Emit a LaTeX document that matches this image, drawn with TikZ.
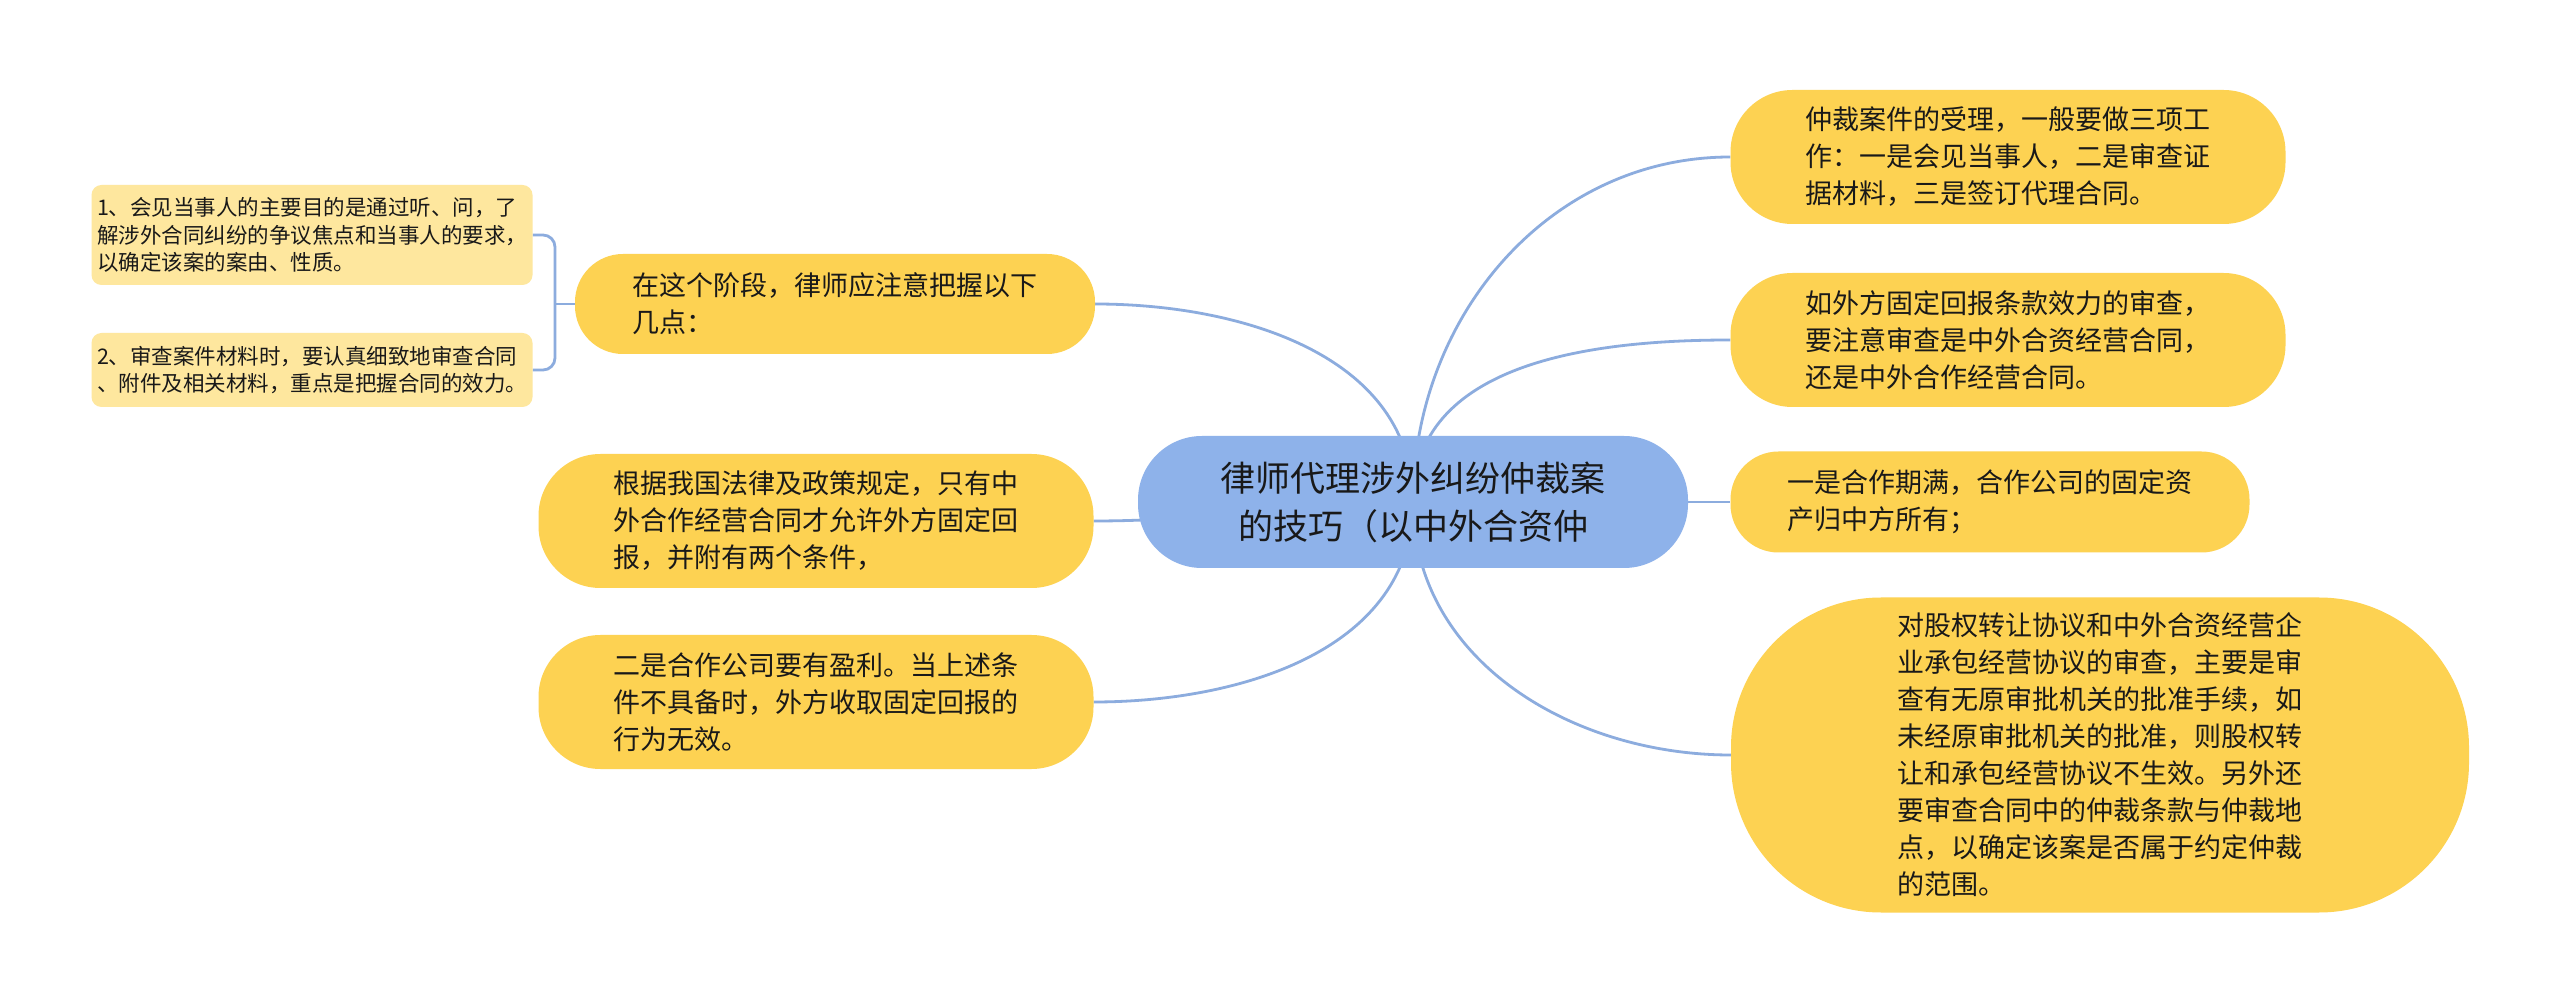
\documentclass[tikz,border=0pt]{standalone}
\usepackage{fontspec}
\setmainfont{Noto Sans CJK SC}
\usetikzlibrary{backgrounds}
\definecolor{topicyellow}{RGB}{253,210,82}
\definecolor{subyellow}{RGB}{254,231,158}
\definecolor{rootblue}{RGB}{142,178,234}
\definecolor{linkblue}{RGB}{140,172,222}
\definecolor{inktext}{RGB}{25,25,25}

\begin{document}
\begin{tikzpicture}[x=1pt,y=1pt,
  topic/.style={fill=topicyellow, text=inktext, align=left, inner sep=0pt,
    font=\fontsize{27}{37}\selectfont, rounded corners=#1},
  detail/.style={fill=subyellow, text=inktext, align=left, inner sep=0pt,
    font=\fontsize{21.5}{27.5}\selectfont, rounded corners=10pt},
  rootnode/.style={fill=rootblue, text=inktext, align=center, inner sep=0pt,
    font=\fontsize{35}{48}\selectfont, rounded corners=64pt},
  link/.style={draw=linkblue, line width=2.8pt}]
\useasboundingbox (0,0) rectangle (2560,1005);

% centre
\node[rootnode, minimum width=550pt, minimum height=132pt] (root) at (1413,503)
  {律师代理涉外纠纷仲裁案\\的技巧（以中外合资仲};

% right side
\node[topic=62pt, minimum width=555pt, minimum height=134pt] (accept) at (2008,848)
  {仲裁案件的受理，一般要做三项工\\作：一是会见当事人，二是审查证\\据材料，三是签订代理合同。};
\node[topic=62pt, minimum width=555pt, minimum height=134pt] (review) at (2008,665)
  {如外方固定回报条款效力的审查，\\要注意审查是中外合资经营合同，\\还是中外合作经营合同。};
\node[topic=48pt, minimum width=519pt, minimum height=101pt] (expire) at (1990,503)
  {一是合作期满，合作公司的固定资\\产归中方所有；};
\node[topic=150pt, minimum width=738pt, minimum height=315pt] (equity) at (2100,250)
  {对股权转让协议和中外合资经营企\\业承包经营协议的审查，主要是审\\查有无原审批机关的批准手续，如\\未经原审批机关的批准，则股权转\\让和承包经营协议不生效。另外还\\要审查合同中的仲裁条款与仲裁地\\点，以确定该案是否属于约定仲裁\\的范围。};

% left side
\node[topic=48pt, minimum width=520pt, minimum height=100pt] (stage) at (835,701)
  {在这个阶段，律师应注意把握以下\\几点：};
\node[topic=62pt, minimum width=555pt, minimum height=134pt] (law) at (816,484)
  {根据我国法律及政策规定，只有中\\外合作经营合同才允许外方固定回\\报，并附有两个条件，};
\node[topic=62pt, minimum width=555pt, minimum height=134pt] (profit) at (816,303)
  {二是合作公司要有盈利。当上述条\\件不具备时，外方收取固定回报的\\行为无效。};

% details of stage
\node[detail, minimum width=441pt, minimum height=100pt] (meet) at (312,770)
  {1、会见当事人的主要目的是通过听、问，了\\解涉外合同纠纷的争议焦点和当事人的要求，\\以确定该案的案由、性质。};
\node[detail, minimum width=441pt, minimum height=74pt] (files) at (312,635)
  {2、审查案件材料时，要认真细致地审查合同\\、附件及相关材料，重点是把握合同的效力。};
\coordinate (brace) at (555,701);

\begin{scope}[on background layer]
\fill[white] (0,0) rectangle (2560,1005);
\draw[link] (root.center) to[out=90,in=180] (accept.west);
\draw[link] (root.center) to[out=90,in=180] (review.west);
\draw[link] (root.center) -- (expire.west);
\draw[link] (root.center) to[out=-90,in=180] (equity.west);
\draw[link] (root.center) to[out=90,in=0] (stage.east);
\draw[link] (root.center) to[out=180,in=0] (law.east);
\draw[link] (root.center) to[out=-90,in=0] (profit.east);
\draw[link, rounded corners=12pt] (meet.east) -| (brace) |- (files.east);
\draw[link] (brace) -- (stage.west);
\end{scope}
\end{tikzpicture}
\end{document}
